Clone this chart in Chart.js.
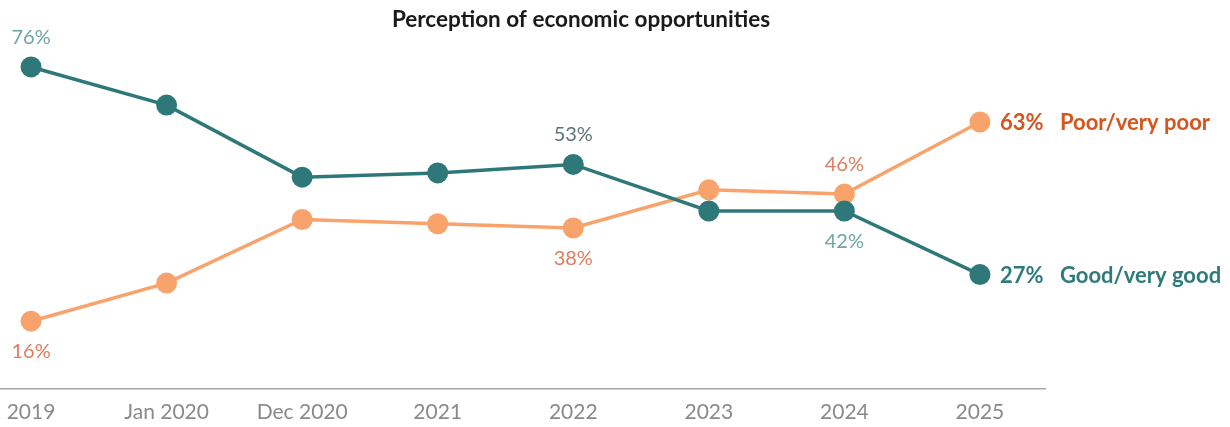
<!DOCTYPE html>
<html>
<head>
<meta charset="utf-8">
<script src="https://cdn.jsdelivr.net/npm/chart.js@4/dist/chart.umd.min.js"></script>
<style>
  html, body { margin: 0; padding: 0; background: #ffffff; }
  #wrap { width: 1230px; height: 427px; position: relative; }
</style>
</head>
<body>
<div id="wrap"><canvas id="chart"></canvas></div>
<script>
// Survey waves and shares of respondents (%)
const categories = ['2019', 'Jan 2020', 'Dec 2020', '2021', '2022', '2023', '2024', '2025'];
const goodValues = [76, 67, 50, 51, 53, 42, 42, 27];
const poorValues = [16, 25, 40, 39, 38, 47, 46, 63];
const seriesNames = ['Good/very good', 'Poor/very poor'];
const chartTitle = 'Perception of economic opportunities';

// Which points carry a value label, and on which side of the point
const goodLabelled = { 0: 'above', 4: 'above', 6: 'below' };
const poorLabelled = { 0: 'below', 4: 'below', 6: 'above' };

const TEAL = '#2f7879';
const ORANGE = '#f9a36c';
const FONT = 'Lato, "Open Sans", sans-serif';

const toPoints = vals => vals.map((v, i) => ({ x: i, y: v }));

const annotations = {
  id: 'annotations',
  afterDatasetsDraw(chart) {
    const ctx = chart.ctx;
    ctx.save();
    // title
    ctx.font = 'bold 22.5px ' + FONT;
    ctx.fillStyle = '#1a1a1a';
    ctx.textAlign = 'center';
    ctx.textBaseline = 'alphabetic';
    ctx.fillText(chartTitle, 581, 27);

    const specs = [
      { ds: 0, map: goodLabelled, vals: goodValues, colors: { 0: '#6ea5a6', 4: '#5f7374', 6: '#6ea5a6' } },
      { ds: 1, map: poorLabelled, vals: poorValues, colors: { 0: '#e07d5f', 4: '#e07d5f', 6: '#e07d5f' } }
    ];
    ctx.font = '20px ' + FONT;
    specs.forEach(s => {
      const meta = chart.getDatasetMeta(s.ds);
      Object.keys(s.map).forEach(k => {
        const i = +k;
        const pt = meta.data[i];
        const dy = s.map[k] === 'above' ? -23 : 37;
        ctx.fillStyle = s.colors[i];
        ctx.fillText(s.vals[i] + '%', pt.x, pt.y + dy);
      });
    });

    // end labels
    const last = categories.length - 1;
    const ends = [
      { ds: 1, vals: poorValues, name: seriesNames[1], color: '#d4561e' },
      { ds: 0, vals: goodValues, name: seriesNames[0], color: '#2f7b7c' }
    ];
    ctx.font = 'bold 22px ' + FONT;
    ctx.textAlign = 'left';
    ends.forEach(e => {
      const pt = chart.getDatasetMeta(e.ds).data[last];
      ctx.fillStyle = e.color;
      ctx.fillText(e.vals[last] + '%', pt.x + 20, pt.y + 8);
      ctx.fillText(e.name, pt.x + 80, pt.y + 8);
    });
    ctx.restore();
  }
};

new Chart(document.getElementById('chart'), {
  type: 'line',
  data: {
    datasets: [
      {
        label: seriesNames[0],
        data: toPoints(goodValues),
        borderColor: TEAL,
        backgroundColor: TEAL,
        pointBackgroundColor: TEAL,
        pointBorderWidth: 0,
        pointRadius: 10.5,
        borderWidth: 3.5,
        tension: 0,
        clip: false
      },
      {
        label: seriesNames[1],
        data: toPoints(poorValues),
        borderColor: ORANGE,
        backgroundColor: ORANGE,
        pointBackgroundColor: ORANGE,
        pointBorderWidth: 0,
        pointRadius: 10.5,
        borderWidth: 3.5,
        tension: 0,
        clip: false
      }
    ]
  },
  options: {
    responsive: true,
    maintainAspectRatio: false,
    animation: false,
    events: [],
    layout: { autoPadding: false, padding: { top: 50, right: 185, bottom: 0, left: 0 } },
    plugins: {
      legend: { display: false },
      title: { display: false },
      tooltip: { enabled: false }
    },
    scales: {
      x: {
        type: 'linear',
        min: -0.229,
        max: 7.48,
        afterBuildTicks: axis => { axis.ticks = categories.map((c, i) => ({ value: i })); },
        afterFit: axis => {
          axis.height = 38;
          axis.paddingLeft = 0;
          axis.paddingRight = 0;
        },
        grid: { display: false, drawTicks: false },
        border: { display: true, color: '#a8a8a8', width: 1.5 },
        ticks: {
          autoSkip: false,
          maxRotation: 0,
          padding: 11,
          color: '#8a8a8a',
          font: { family: FONT, size: 21 },
          callback: v => categories[v] ?? ''
        }
      },
      y: {
        display: false,
        min: 0,
        max: 80
      }
    }
  },
  plugins: [annotations]
});
</script>
</body>
</html>
